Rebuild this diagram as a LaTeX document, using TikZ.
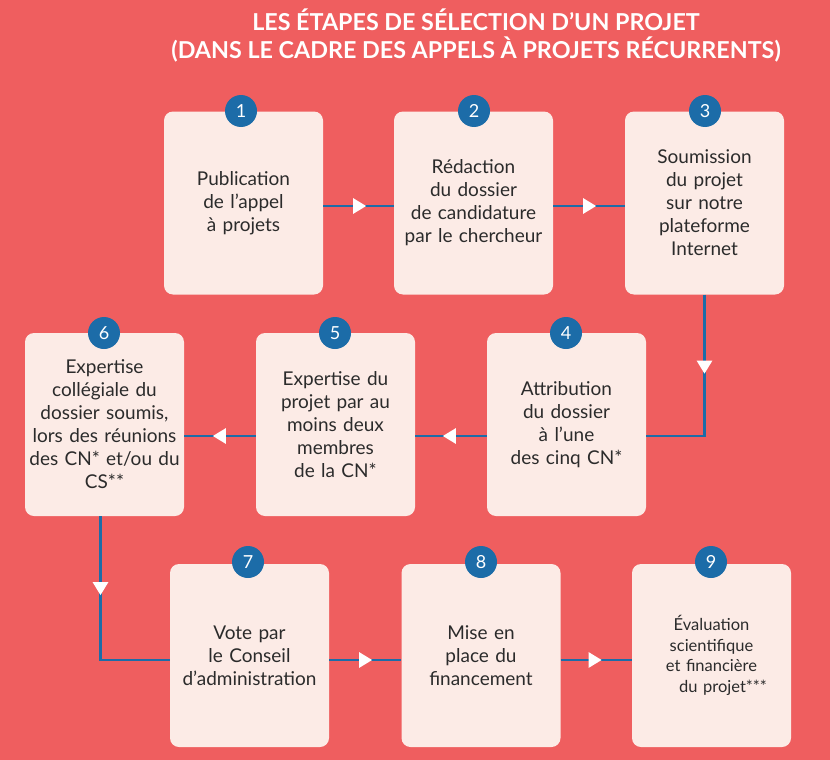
\documentclass[tikz,border=0pt]{standalone}
\usepackage{fontspec}
\setmainfont{Lato}
\usetikzlibrary{arrows.meta,decorations.markings,calc}
\definecolor{bg}{HTML}{EF5E5F}
\definecolor{boxfill}{HTML}{FCEBE6}
\definecolor{badge}{HTML}{1C6CA8}
\definecolor{ink}{HTML}{2B2B2B}
\begin{document}
\begin{tikzpicture}[x=1pt,y=-1pt,
  stepbox/.style={fill=boxfill, rounded corners=9pt, minimum width=159pt, minimum height=183pt,
    text width=155pt, align=center, font=\fontsize{19}{23}\selectfont, text=ink, inner sep=0pt},
  badgenode/.style={circle, fill=badge, minimum size=32pt, inner sep=0pt, text=white,
    font=\fontsize{18}{18}\selectfont},
  link/.style={draw=badge, line width=2.5pt},
  tri/.style={link, postaction={decorate}, decoration={markings,
    mark=at position #1 with {\arrow[white]{Triangle[width=15pt,length=13pt]}}}}
]
\fill[bg] (0,0) rectangle (830,760);
\useasboundingbox (0,0) rectangle (830,760);

\node[font=\bfseries\fontsize{23.3}{28}\selectfont, text=white, align=center] (title) at (476,36)
  {LES ÉTAPES DE SÉLECTION D’UN PROJET\\(DANS LE CADRE DES APPELS À PROJETS RÉCURRENTS)};

% row 1
\node[stepbox] (b1) at (243.5,203) {Publication\\de l’appel\\à projets};
\node[stepbox] (b2) at (473.5,203) {Rédaction\\du dossier\\de candidature\\par le chercheur};
\node[stepbox] (b3) at (704.5,203) {Soumission\\du projet\\sur notre\\plateforme\\Internet};
% row 2
\node[stepbox] (b6) at (104.5,424.5) {Expertise\\collégiale du\\dossier soumis,\\lors des réunions\\des CN* et/ou du\\CS**};
\node[stepbox] (b5) at (335.5,424.5) {Expertise du\\projet par au\\moins deux\\membres\\de la CN*};
\node[stepbox] (b4) at (566.5,424.5) {Attribution\\du dossier\\à l’une\\des cinq CN*};
% row 3
\node[stepbox] (b7) at (249.5,655.5) {Vote par\\le Conseil\\d’administration};
\node[stepbox] (b8) at (481,655.5) {Mise en\\place du\\financement};
\node[stepbox, font=\fontsize{16.5}{20.5}\selectfont] (b9) at (711.5,655.5) {Évaluation\\scientifique\\et financière\\\hspace*{1.4em}du projet***};

% connector levels
\coordinate (r1) at (0,206);
\coordinate (r2) at (0,436);
\coordinate (r3) at (0,660);

\draw[tri=43pt] (b1.east |- r1) -- (b2.west |- r1);
\draw[tri=43pt] (b2.east |- r1) -- (b3.west |- r1);
\draw[tri=79pt] (b3.south) -- (b3.south |- r2) -- (b4.east |- r2);
\draw[tri=44pt] (b4.west |- r2) -- (b5.east |- r2);
\draw[tri=43pt] (b5.west |- r2) -- (b6.east |- r2);
\coordinate (d6) at ($(b6.south)+(-4,0)$);
\draw[tri=79pt] (d6) -- (d6 |- r3) -- (b7.west |- r3);
\draw[tri=43pt] (b7.east |- r3) -- (b8.west |- r3);
\draw[tri=41pt] (b8.east |- r3) -- (b9.west |- r3);

% badges
\node[badgenode] (n1) at (241,111) {1};
\node[badgenode] (n2) at (474,111) {2};
\node[badgenode] (n3) at (705,111) {3};
\node[badgenode] (n6) at (104,333) {6};
\node[badgenode] (n5) at (335,333) {5};
\node[badgenode] (n4) at (566,333) {4};
\node[badgenode] (n7) at (248,562) {7};
\node[badgenode] (n8) at (481,562) {8};
\node[badgenode] (n9) at (711,562) {9};
\end{tikzpicture}
\end{document}
